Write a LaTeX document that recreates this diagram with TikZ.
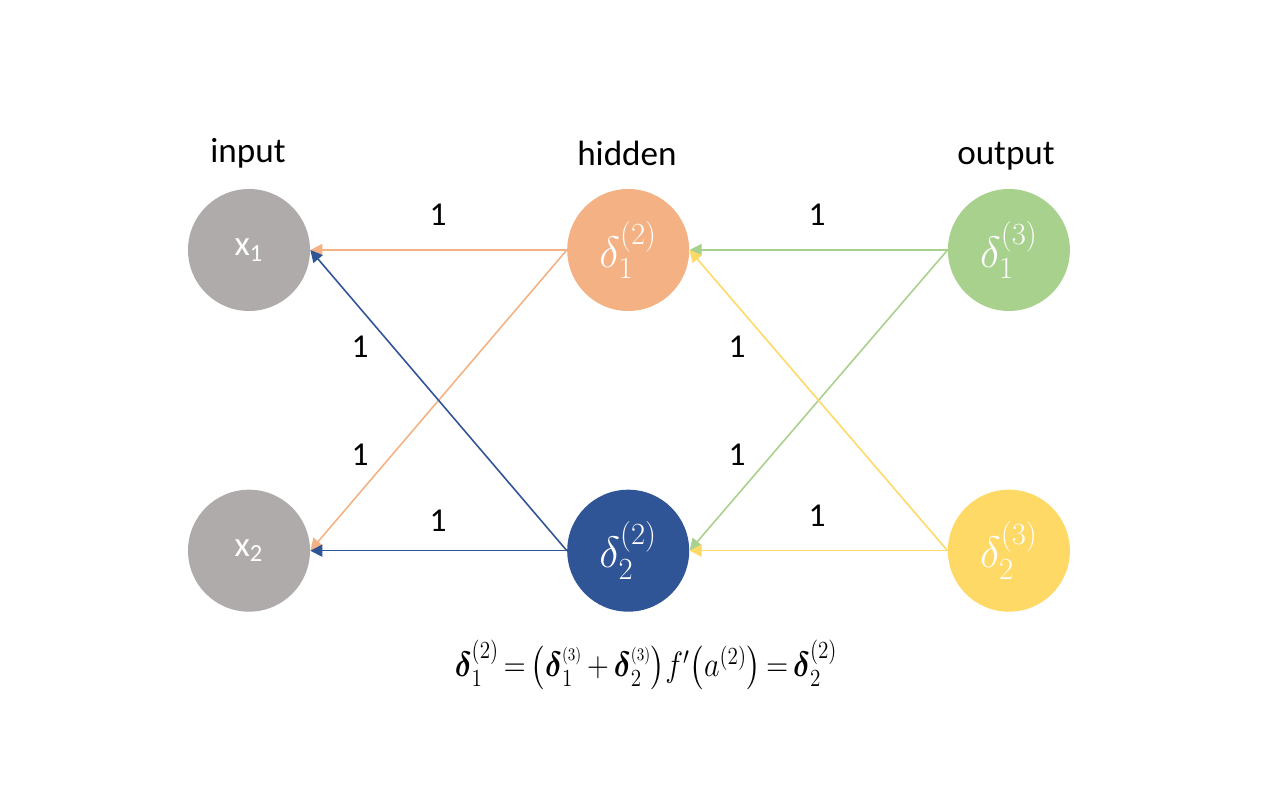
\RequirePackage{fix-cm}
\documentclass[tikz,border=0pt]{standalone}
\usepackage{amsmath}
\usepackage{fontspec}
\setmainfont{Carlito}
\usepackage{tikz}
\usetikzlibrary{positioning}
\usetikzlibrary{arrows.meta}
\definecolor{ingray}{HTML}{AFABAB}
\definecolor{hidorange}{HTML}{F4B183}
\definecolor{hidblue}{HTML}{2F5597}
\definecolor{outgreen}{HTML}{A9D18E}
\definecolor{outyellow}{HTML}{FFD966}
\tikzset {
  % neuron circles
  neuron/.style = {circle, minimum size=2.44cm, inner sep=0pt, text=white,
    font=\fontsize{20}{24}\selectfont},
  deltatext/.style = {font=\fontsize{25}{30}\selectfont},
  % layer titles and weights
  title/.style = {font=\fontsize{20}{24}\selectfont},
  weight/.style = {font=\fontsize{19}{23}\selectfont},
  % back-propagated error lines
  back/.style = {line width=0.9pt, -{Triangle[length=2.4mm, width=2.4mm]}},
}

\begin{document}
\begin{tikzpicture}
        \useasboundingbox (0,0) rectangle (25.36,15.96);

        \node[neuron, fill=ingray] (x1) at (4.98,10.96) {x\textsubscript{1}};
        \node[neuron, fill=ingray] (x2) [below=3.56cm of x1] {x\textsubscript{2}};
        \node[neuron, deltatext, fill=hidorange] (h1) [right=5.13cm of x1] {$\delta_1^{(2)}$};
        \node[neuron, deltatext, fill=hidblue] (h2) [below=3.56cm of h1] {$\delta_2^{(2)}$};
        \node[neuron, deltatext, fill=outgreen] (o1) [right=5.16cm of h1] {$\delta_1^{(3)}$};
        \node[neuron, deltatext, fill=outyellow] (o2) [below=3.56cm of o1] {$\delta_2^{(3)}$};

        \node[title] (tin) at (4.96,12.9) {input};
        \node[title] (thid) at (12.54,12.9) {hidden};
        \node[title] (tout) at (20.12,12.84) {output};

        \draw [back, hidorange] (h1.west) -- (x1.east);
        \draw [back, hidorange] (h1.west) -- (x2.east);
        \draw [back, hidblue] (h2.west) -- (x1.east);
        \draw [back, hidblue] (h2.west) -- (x2.east);
        \draw [back, outgreen] (o1.west) -- (h1.east);
        \draw [back, outgreen] (o1.west) -- (h2.east);
        \draw [back, outyellow] (o2.west) -- (h1.east);
        \draw [back, outyellow] (o2.west) -- (h2.east);

        \node[weight] (w1) at (8.76,11.66) {1};
        \node[weight] (w2) at (16.34,11.66) {1};
        \node[weight] (w3) at (7.2,9.02) {1};
        \node[weight] (w4) at (7.2,6.86) {1};
        \node[weight] (w5) at (14.74,9.02) {1};
        \node[weight] (w6) at (14.74,6.86) {1};
        \node[weight] (w7) at (8.76,5.54) {1};
        \node[weight] (w8) at (16.34,5.64) {1};

        % the shared error of the hidden layer
        \node[font=\fontsize{20}{24}\selectfont, xscale=0.86] (eq) at (12.92,2.66)
          {\thickmuskip=3mu \medmuskip=3mu
           $\boldsymbol{\delta}_1^{(2)} = \left(\boldsymbol{\delta}_1^{\scriptscriptstyle(3)} + \boldsymbol{\delta}_2^{\scriptscriptstyle(3)}\right)\! f'\!\left(a^{(2)}\right) = \boldsymbol{\delta}_2^{(2)}$};
      \end{tikzpicture}
\end{document}
